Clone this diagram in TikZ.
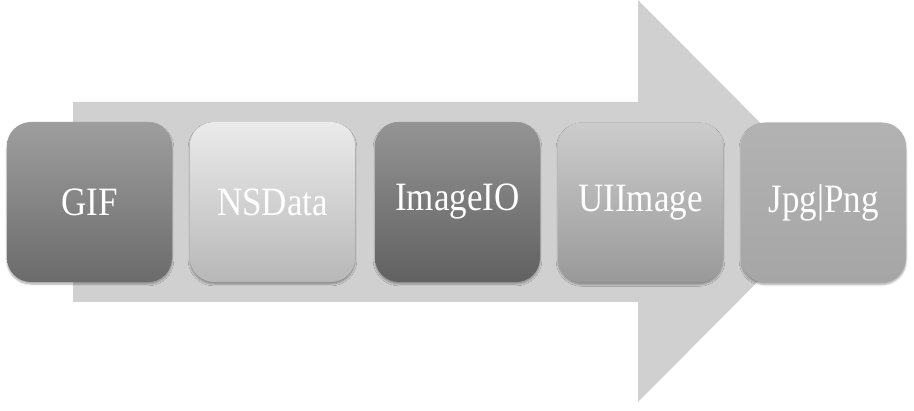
\documentclass[tikz,border=0pt]{standalone}
\usepackage{fontspec}
\setmainfont{Liberation Serif}
\usetikzlibrary{shadows.blur}
\definecolor{arrowgray}{HTML}{D0D0D0}
\tikzset{
  stagebox/.style={rectangle, rounded corners=24pt, minimum width=165pt, minimum height=160pt,
    inner sep=0pt, outer sep=0pt, text=white,
    blur shadow={shadow xshift=0pt, shadow yshift=-2pt, shadow blur steps=6, shadow opacity=35},
    font=\fontsize{35}{40}\selectfont},
}
\newcommand{\tallt}[1]{\scalebox{1}[1.15]{#1}}
\begin{document}
\begin{tikzpicture}[x=1pt,y=-1pt]
\useasboundingbox (0,0) rectangle (914,411);
% big arrow
\fill[arrowgray] (73,102) -- (638,102) -- (638,0) -- (838,201) -- (638,402) -- (638,302) -- (73,302) -- cycle;
% boxes
\node[stagebox, top color=black!38, bottom color=black!58] (gif) at (89.5,202) {\tallt{GIF}};
\node[stagebox, top color=black!8, bottom color=black!28] (nsdata) at (272.5,202) {\tallt{NSData}};
\node[stagebox, top color=black!42, bottom color=black!62] (imageio) at (457.5,202) {\tallt{ImageIO}};
\node[stagebox, top color=black!20, bottom color=black!40] (uiimage) at (640.5,202.5) {\tallt{UIImage}};
\node[stagebox, top color=black!30, bottom color=black!35] (jpgpng) at (823.5,202.5) {\tallt{Jpg|Png}};
\end{tikzpicture}
\end{document}
